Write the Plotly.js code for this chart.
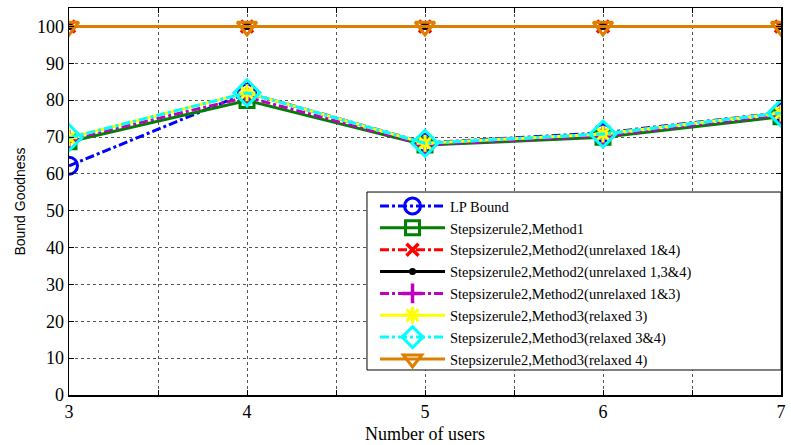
<!DOCTYPE html>
<html>
<head>
<meta charset="utf-8">
<script src="https://cdn.plot.ly/plotly-3.0.1.min.js"></script>
<style>
  html, body { margin: 0; padding: 0; background: #fff; }
  #chart { width: 791px; height: 445px; }
</style>
</head>
<body>
<div id="chart"></div>
<script>
// Number of users on the x axis
const users = [3, 4, 5, 6, 7];

// Bound goodness for each scheme
const lpBound       = [62.2, 82.0, 68.4, 71.1, 76.6];
const method1       = [68.7, 79.9, 67.8, 69.9, 75.5];
const m2Unrel14     = [100, 100, 100, 100, 100];
const m2Unrel134    = [100, 100, 100, 100, 100];
const m2Unrel13     = [69.3, 80.8, 67.9, 70.3, 76.0];
const m3Relaxed3    = [69.8, 82.0, 68.3, 70.8, 76.5];
const m3Relaxed34   = [69.8, 82.0, 68.3, 70.8, 76.5];
const m3Relaxed4    = [100, 100, 100, 100, 100];

// Axis ticks
const xTickVals = [3, 3.5, 4, 4.5, 5, 5.5, 6, 6.5, 7];
const xTickText = ['3', '', '4', '', '5', '', '6', '', '7'];
const yTickVals = [0, 10, 20, 30, 40, 50, 60, 70, 80, 90, 100];

function series(name, y, color, dash, symbol, size, mlw) {
  return {
    x: users, y: y, name: name, type: 'scatter', mode: 'lines+markers',
    line: { color: color, width: 3, dash: dash },
    marker: { symbol: symbol, size: size, color: color, line: { color: color, width: mlw } }
  };
}

const traces = [
  series('LP Bound', lpBound, '#0000ff', 'dashdot', 'circle-open', 17, 3),
  series('Stepsizerule2,Method1', method1, '#008000', 'solid', 'square-open', 14, 3),
  series('Stepsizerule2,Method2(unrelaxed 1&4)', m2Unrel14, '#ff0000', 'dashdot', 'x-thin-open', 12, 3.5),
  series('Stepsizerule2,Method2(unrelaxed 1,3&4)', m2Unrel134, '#000000', 'solid', 'circle', 7, 0),
  series('Stepsizerule2,Method2(unrelaxed 1&3)', m2Unrel13, '#bf00bf', 'dashdot', 'cross-thin-open', 14, 3.5),
  series('Stepsizerule2,Method3(relaxed 3)', m3Relaxed3, '#ffff00', 'solid', 'asterisk-open', 14, 3),
  series('Stepsizerule2,Method3(relaxed 3&4)', m3Relaxed34, '#00ffff', 'dashdot', 'diamond-open', 20, 3),
  series('Stepsizerule2,Method3(relaxed 4)', m3Relaxed4, '#dd7f00', 'solid', 'triangle-down-open', 17, 3)
];

const axisCommon = {
  showline: true, linecolor: '#000', linewidth: 1.5, mirror: 'ticks',
  ticks: 'inside', ticklen: 5, tickcolor: '#000',
  showgrid: true, gridcolor: '#555', griddash: 'dot', gridwidth: 1,
  zeroline: false,
  tickfont: { family: 'Liberation Serif, Times New Roman, serif', size: 18, color: '#000' }
};

const layout = {
  width: 791, height: 445,
  margin: { l: 69, r: 10, t: 8, b: 50 },
  paper_bgcolor: '#fff', plot_bgcolor: '#fff',
  showlegend: true,
  xaxis: Object.assign({}, axisCommon, {
    range: [3, 7], tickmode: 'array', tickvals: xTickVals, ticktext: xTickText,
    title: { text: 'Number of users', standoff: 6,
             font: { family: 'Liberation Serif, Times New Roman, serif', size: 18, color: '#000' } }
  }),
  yaxis: Object.assign({}, axisCommon, {
    range: [0, 105], tickmode: 'array', tickvals: yTickVals,
    title: { text: 'Bound Goodness', standoff: 8,
             font: { family: 'Liberation Sans, Arial, sans-serif', size: 14, color: '#000' } }
  }),
  // Framed white box behind the legend, reaching the right axis edge
  shapes: [{
    type: 'rect', xref: 'paper', yref: 'paper', layer: 'above',
    x0: 0.4185, x1: 1.0, y0: 0.0646, y1: 0.5245,
    fillcolor: '#fff', line: { color: '#000', width: 1 }
  }],
  legend: {
    x: 0.4298, y: 0.5295, xanchor: 'left', yanchor: 'top',
    bgcolor: 'rgba(0,0,0,0)', borderwidth: 0,
    itemwidth: 65, tracegroupgap: 0,
    font: { family: 'Liberation Serif, Times New Roman, serif', size: 14.5, color: '#000' }
  }
};

Plotly.newPlot('chart', traces, layout, { displayModeBar: false, staticPlot: true });
</script>
</body>
</html>
